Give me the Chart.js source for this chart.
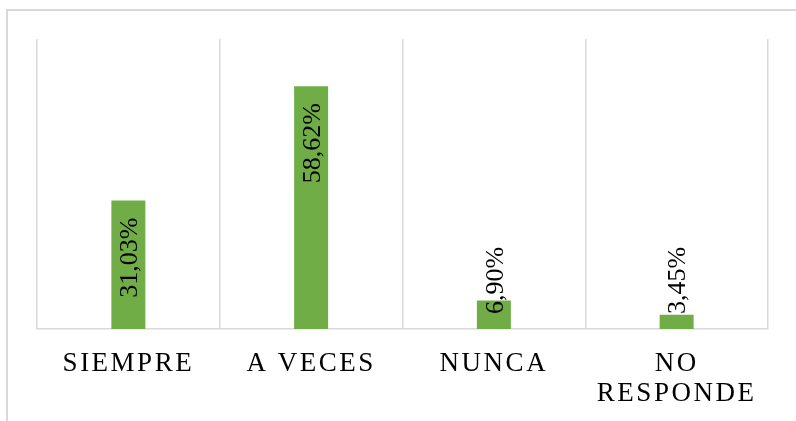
<!DOCTYPE html>
<html>
<head>
<meta charset="utf-8">
<script src="https://cdn.jsdelivr.net/npm/chart.js@4"></script>
<style>
    html, body { margin: 0; padding: 0; background: #fff; overflow: hidden; }
    #frame { position: absolute; left: 6px; top: 9px; width: 900px; height: 500px; border: 2px solid #d9d9d9; }
    #wrap { position: absolute; left: 0; top: 0; width: 796px; height: 439px; }
</style>
</head>
<body>
<div id="frame"></div>
<div id="wrap"><canvas id="chart"></canvas></div>
<script>
// chart data
const categories = ['SIEMPRE', 'A VECES', 'NUNCA', ['NO', 'RESPONDE']];
const percentages = [31.03, 58.62, 6.90, 3.45];
const yMax = 70;

const serif = '"Liberation Serif", "Times New Roman", serif';

function formatPct(v) {
    return v.toFixed(2).replace('.', ',') + '%';
}

// letter spacing for the category labels only
const spacingPlugin = {
    id: 'spacing',
    beforeDraw(chart) { chart.ctx.letterSpacing = '2.5px'; },
    beforeDatasetsDraw(chart) { chart.ctx.letterSpacing = '0px'; }
};

// rotated value labels inside the bars
const valueLabels = {
    id: 'valueLabels',
    afterDatasetsDraw(chart) {
        const ctx = chart.ctx;
        const meta = chart.getDatasetMeta(0);
        ctx.save();
        ctx.letterSpacing = '0px';
        ctx.font = '26px ' + serif;
        ctx.fillStyle = '#000';
        ctx.textAlign = 'left';
        ctx.textBaseline = 'middle';
        meta.data.forEach((bar, i) => {
            const text = formatPct(percentages[i]);
            const w = ctx.measureText(text).width;
            let bottom = bar.y + 17 + w;
            if (bottom > bar.base - 15) bottom = bar.base - 15;
            ctx.save();
            ctx.translate(bar.x + 2, bottom);
            ctx.rotate(-Math.PI / 2);
            ctx.fillText(text, 0, 0);
            ctx.restore();
        });
        ctx.restore();
    }
};

new Chart(document.getElementById('chart'), {
    type: 'bar',
    data: {
        labels: categories,
        datasets: [{
            data: percentages,
            backgroundColor: '#70ad47',
            borderWidth: 0,
            categoryPercentage: 1,
            barPercentage: 0.186
        }]
    },
    options: {
        responsive: true,
        maintainAspectRatio: false,
        animation: false,
        events: [],
        layout: { padding: { left: 37, right: 28, top: 39, bottom: 10 } },
        plugins: {
            legend: { display: false },
            tooltip: { enabled: false }
        },
        scales: {
            x: {
                grid: { color: '#d9d9d9', lineWidth: 1.5, drawTicks: false, offset: true },
                border: { color: '#d9d9d9', width: 1.5 },
                ticks: {
                    color: '#000',
                    padding: 20,
                    maxRotation: 0,
                    autoSkip: false,
                    font: { family: serif, size: 27, lineHeight: 1.11 }
                }
            },
            y: {
                display: false,
                min: 0,
                max: yMax
            }
        }
    },
    plugins: [spacingPlugin, valueLabels]
});
</script>
</body>
</html>
